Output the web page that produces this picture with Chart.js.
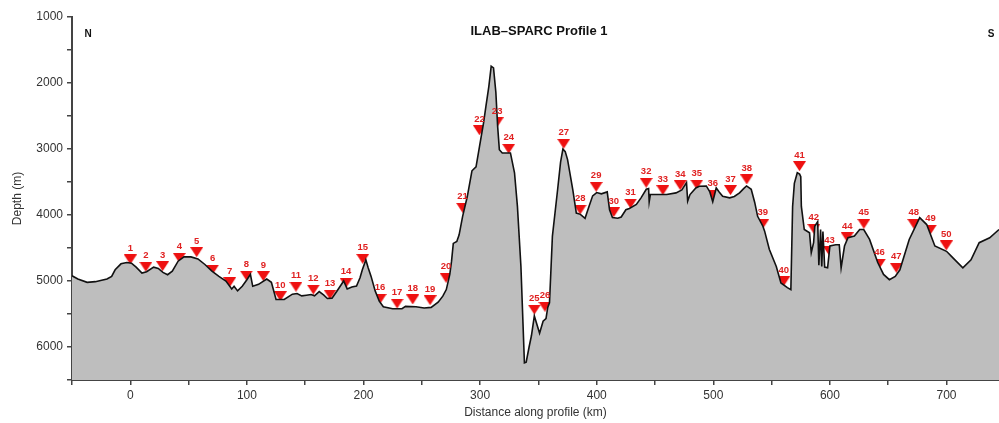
<!DOCTYPE html>
<html><head><meta charset="utf-8">
<script src="https://cdn.jsdelivr.net/npm/chart.js@4"></script>
<style>html,body{margin:0;padding:0;background:#fff}#wrap{width:999px;height:423px;position:relative}</style>
</head><body><div id="wrap"><canvas id="c" width="999" height="423"></canvas></div>
<script>
// ---- data ----
const profileKm = [-50,-45,-37,-30,-20,-16,-13,-8,-3,1,5,10,14,20,24,28,32,36,41,46,52,58,64,70,76,82,87,89,92,96,100,103,105,110,117,121,125,132,139,143,147,151,155,158,162,166,169,173,177,183,186,190,194,197,199,202,204,206.5,210,213.5,217,225,233,236,245,252,258,264,268,271,274,275.5,277,280,282,285,289,293,296.5,299.5,303,305,307.5,309.5,311.5,313.5,315,316.5,319,326,329.5,332,335,338,339.5,342,344,346.5,351,354,356.5,358,359.5,362,366.5,369,371,373,375,379.5,382.5,386,390,393,396.5,400,404,409,411,413.5,418,421,425,428,434,438,442.5,444.5,445,446,453,460,468,473,477,478,480,485,488,494,497,499.5,502.5,505,508,514,518,522.5,526,528.5,532.5,535.5,538,542.5,544,548,554,558,563.5,566.5,568,569.5,572,574,575,575.5,578,582.5,584,586,587,589.5,590.5,592,593,594,595.5,598,600,605,608,609.6,612.5,615.5,621,625.5,629,634,641,646,651,656,660,668,677,683,690,700,705.5,714,721,728,737,745];
const profileDepth = [4920,4970,5020,5010,4970,4930,4830,4740,4720,4730,4790,4880,4860,4790,4810,4870,4905,4850,4700,4635,4635,4665,4750,4850,4930,5000,5120,5080,5150,5080,4980,4900,5080,5050,4970,5020,5280,5280,5200,5190,5225,5215,5205,5225,5160,5215,5265,5260,5160,5000,5120,5090,5075,4950,4830,4680,4800,4930,5150,5306,5390,5420,5420,5385,5390,5410,5400,5320,5230,5130,4900,4700,4430,4400,4300,4020,3720,3330,3270,2960,2600,2350,2050,1745,1770,2140,2650,3010,3060,3060,3360,3870,4780,6240,6230,6000,5830,5530,5790,5610,5570,5400,5330,4320,3610,3200,3000,3040,3160,3620,3970,3990,4050,3890,3710,3660,3680,3650,3920,4040,4050,4030,3920,3900,3840,3740,3610,3600,3800,3690,3690,3690,3665,3620,3510,3790,3690,3590,3565,3560,3650,3800,3590,3650,3715,3740,3720,3665,3600,3560,3610,3810,4020,4170,4245,4520,4780,5030,5100,5130,3870,3520,3360,3380,3420,3870,4220,4270,4570,4420,4170,4100,4760,4220,4780,4250,4790,4800,4470,4450,4450,4800,4470,4345,4320,4220,4220,4370,4720,4900,4980,4930,4830,4370,4040,4145,4470,4550,4650,4800,4680,4420,4345,4220];
const stationKm = [0,13.4,27.7,42,56.9,70.6,85.2,99.5,114.1,128.7,142.1,157,171.3,185,199.3,214.2,228.8,242.2,257.1,270.8,285,299.4,314.6,324.5,346.5,355.6,371.7,385.8,399.5,414.6,429,442.4,456.7,471.6,485.8,499.5,514.7,528.7,542.4,560.4,573.9,586.2,599.6,614.8,629.1,642.5,656.9,671.9,686.2,699.8];
const stationDepth = [4674,4785,4775,4649,4563,4826,5018,4917,4927,5230,5088,5129,5205,5027,4664,5270,5341,5280,5291,4952,3891,2715,2594,2997,5432,5391,2921,3917,3573,3957,3826,3512,3624,3548,3538,3690,3624,3462,4134,5003,3260,4210,4548,4336,4134,4735,4800,4134,4220,4462];
const stationLabels = ['1','2','3','4','5','6','7','8','9','10','11','12','13','14','15','16','17','18','19','20','21','22','23','24','25','26','27','28','29','30','31','32','33','34','35','36','37','38','39','40','41','42','43','44','45','46','47','48','49','50'];
const xTickLabels = [0,100,200,300,400,500,600,700];
const yTickLabels = [1000,2000,3000,4000,5000,6000];
const chartTitle = 'ILAB\u2013SPARC Profile 1';
const leftTag = 'N';
const rightTag = 'S';

// ---- marker image ----
const tri = document.createElement('canvas');
tri.width = 13; tri.height = 10;
(function(){const g = tri.getContext('2d');g.fillStyle='#ee1111';g.beginPath();g.moveTo(0,0);g.lineTo(13,0);g.lineTo(6.5,10);g.closePath();g.fill();})();

const textPlugin = {
  id:'texts',
  afterDatasetsDraw(chart){
    const ctx = chart.ctx;
    ctx.save();
    const meta = chart.getDatasetMeta(1);
    ctx.fillStyle = '#e02222';
    ctx.font = 'bold 9.5px "Liberation Sans", Arial, sans-serif';
    ctx.textAlign = 'center';
    ctx.textBaseline = 'middle';
    meta.data.forEach((el,i)=>{ ctx.fillText(stationLabels[i], el.x, el.y - 11); });
    ctx.fillStyle = '#111';
    ctx.font = 'bold 13px "Liberation Sans", Arial, sans-serif';
    ctx.fillText(chartTitle, 539, 31);
    ctx.font = 'bold 10px "Liberation Sans", Arial, sans-serif';
    ctx.fillText(leftTag, 88, 34);
    ctx.fillText(rightTag, 991, 34);
    ctx.restore();
  }
};

const tickFont = {family:'"Liberation Sans", Arial, sans-serif', size:12};
new Chart(document.getElementById('c'), {
  type:'line',
  data:{datasets:[
    {data: profileKm.map((x,i)=>({x, y: profileDepth[i]})), borderColor:'#111', borderWidth:1.6, backgroundColor:'#bebebe', fill:{value:6500}, pointRadius:0, tension:0},
    {data: stationKm.map((x,i)=>({x, y: stationDepth[i]})), showLine:false, pointStyle:tri, pointRadius:6, borderWidth:0}
  ]},
  options:{
    responsive:false, animation:false, devicePixelRatio:1,
    layout:{autoPadding:false, padding:{top:17,right:0,left:0,bottom:0}},
    plugins:{legend:{display:false}, tooltip:{enabled:false}},
    scales:{
      x:{type:'linear', min:-50, max:745,
        ticks:{stepSize:50, includeBounds:false, autoSkip:false, maxRotation:0, color:'#333', font:tickFont, padding:3,
          callback:(v)=> xTickLabels.includes(v) ? String(v) : ''},
        grid:{drawOnChartArea:false, drawTicks:true, tickLength:5, color:'#444', lineWidth:1.5},
        border:{color:'#444', width:2},
        title:{display:true, text:'Distance along profile (km)', color:'#333', font:tickFont, padding:{top:0,bottom:3}},
        afterFit:(s)=>{s.height = 43;}
      },
      y:{type:'linear', reverse:true, min:1000, max:6500,
        ticks:{stepSize:500, autoSkip:false, color:'#333', font:tickFont, padding:4,
          callback:(v)=> yTickLabels.includes(v) ? String(v) : ''},
        grid:{drawOnChartArea:false, drawTicks:true, tickLength:5, color:'#444', lineWidth:1.5},
        border:{color:'#444', width:2},
        title:{display:true, text:'Depth (m)', color:'#333', font:tickFont, padding:{top:10,bottom:0}},
        afterFit:(s)=>{s.width = 72;}
      }
    }
  },
  plugins:[textPlugin]
});
</script></body></html>
